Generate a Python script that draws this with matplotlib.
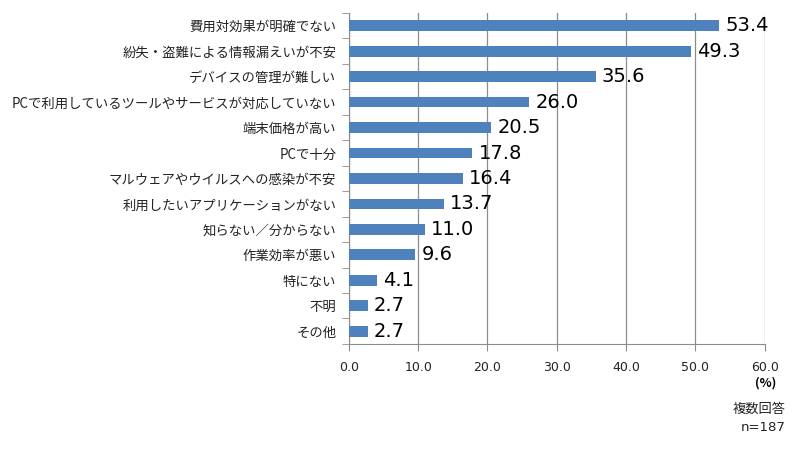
import matplotlib
matplotlib.use("Agg")
import matplotlib.pyplot as plt
import numpy as np

plt.rcParams['font.family'] = ['Noto Sans CJK JP', 'DejaVu Sans']

categories = [
    "費用対効果が明確でない",
    "紛失・盗難による情報漏えいが不安",
    "デバイスの管理が難しい",
    "PCで利用しているツールやサービスが対応していない",
    "端末価格が高い",
    "PCで十分",
    "マルウェアやウイルスへの感染が不安",
    "利用したいアプリケーションがない",
    "知らない／分からない",
    "作業効率が悪い",
    "特にない",
    "不明",
    "その他",
]
values = [53.4, 49.3, 35.6, 26.0, 20.5, 17.8, 16.4, 13.7, 11.0, 9.6, 4.1, 2.7, 2.7]
xticks = [0, 10, 20, 30, 40, 50, 60]

bar_color = "#4F81BD"
grid_color = "#8C8C8C"
num_font = ['DejaVu Sans']

fig = plt.figure(figsize=(8, 4.49), dpi=100)
ax = fig.add_axes([0.436, 0.234, 0.52, 0.737])

y = np.arange(len(categories))
ax.barh(y, values, height=0.42, color=bar_color, zorder=3)
ax.set_ylim(len(categories) - 0.5, -0.5)
ax.set_xlim(0, 60)

for yi, v in zip(y, values):
    ax.text(v + 0.9, yi, f"{v:.1f}", va="center", ha="left", fontsize=14,
            family=num_font, color="#000000", zorder=4)

ax.set_xticks(xticks)
ax.set_xticklabels([f"{t:.1f}" for t in xticks], fontsize=9, color="#222222",
                   family=num_font)
ax.set_yticks(y)
ax.set_yticklabels(categories, fontsize=9.6, color="#222222")
ax.tick_params(axis="y", length=0, pad=9)
ax.set_yticks(np.arange(-0.5, len(categories), 1), minor=True)
ax.tick_params(axis="y", which="minor", length=5, color=grid_color, direction="out")
ax.tick_params(axis="x", length=5, color=grid_color, direction="out", pad=7)

ax.grid(axis="x", color=grid_color, linewidth=0.9, zorder=0)
for s in ["top", "right"]:
    ax.spines[s].set_visible(False)
ax.spines["left"].set_color(grid_color)
ax.spines["bottom"].set_color(grid_color)

fig.text(0.957, 0.147, "(%)", ha="center", va="center", fontsize=9, fontweight="bold")
fig.text(0.982, 0.088, "複数回答", ha="right", va="center", fontsize=9.5, color="#222222")
fig.text(0.982, 0.047, "n=187", ha="right", va="center", fontsize=9.5, color="#222222",
         family=num_font)

fig.savefig("out.png", dpi=100)
